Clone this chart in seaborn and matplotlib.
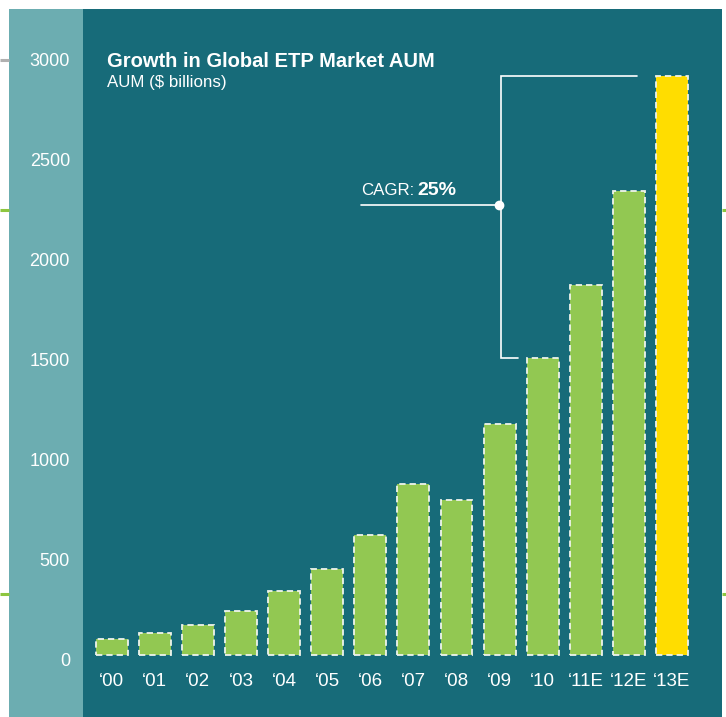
import matplotlib
matplotlib.use("Agg")
import matplotlib.pyplot as plt
from matplotlib.patches import Rectangle
from matplotlib.lines import Line2D
from matplotlib.transforms import ScaledTranslation
import seaborn as sns
import pandas as pd

# Global ETP assets under management, $ billions
years = ["\u201800", "\u201801", "\u201802", "\u201803", "\u201804", "\u201805", "\u201806",
         "\u201807", "\u201808", "\u201809", "\u201810", "\u201811E", "\u201812E", "\u201813E"]
aum = [80, 112, 150, 220, 320, 430, 600, 853, 775, 1157, 1485, 1850, 2320, 2897]
y_ticks = [0, 500, 1000, 1500, 2000, 2500, 3000]
cagr_label = "25%"

TEAL = "#176b79"
STRIP = "#6cadb1"
GREEN = "#92c852"
YELLOW = "#ffdd00"
EDGE = "#eef4ec"
MARK = "#8dc63f"

sns.set_theme(style="white")
plt.rcParams["font.family"] = ["Liberation Sans", "DejaVu Sans"]

W, H = 726, 717
fig = plt.figure(figsize=(W / 100, H / 100), dpi=100)
fig.patch.set_facecolor("white")

def fx(px):
    return px / W

def fy(py):
    return 1 - py / H

# light label strip on the left
fig.add_artist(Rectangle((fx(9), 0), fx(83) - fx(9), fy(9), transform=fig.transFigure,
                         facecolor=STRIP, edgecolor="none", zorder=0))
# small margin marks
for y0, c in [(60, "#b0b0b0"), (210, MARK), (594, MARK)]:
    fig.add_artist(Line2D([0, fx(9)], [fy(y0), fy(y0)], transform=fig.transFigure,
                          color=c, lw=2.2, solid_capstyle="butt"))
for y0 in (210, 594):
    fig.add_artist(Line2D([fx(722), 1], [fy(y0), fy(y0)], transform=fig.transFigure,
                          color=MARK, lw=2.2, solid_capstyle="butt"))

ax = fig.add_axes([fx(83), 0, fx(722) - fx(83), fy(9)])
ax.set_facecolor(TEAL)

df = pd.DataFrame({"year": years, "aum": aum})
palette = [GREEN] * (len(years) - 1) + [YELLOW]
sns.barplot(data=df, x="year", y="aum", hue="year", palette=palette, legend=False,
            width=0.74, saturation=1, ax=ax, zorder=2)
for p in ax.patches:
    p.set_edgecolor(EDGE)
    p.set_linewidth(1.3)
    p.set_linestyle((0, (3.5, 2.2)))

ax.set_xlim(-0.666, 14.16)
ax.set_ylim(-310, 3230)
for s in ax.spines.values():
    s.set_visible(False)
ax.set_xlabel("")
ax.set_ylabel("")

ax.set_yticks(y_ticks)
ax.set_yticklabels([str(v) for v in y_ticks])
ax.tick_params(axis="y", length=0, pad=9.4, labelsize=13, labelcolor="white")
ax.tick_params(axis="x", length=0, labelsize=13.5, labelcolor="white")
for lab in ax.get_yticklabels():
    lab.set_transform(lab.get_transform() + ScaledTranslation(0, -5 / 100, fig.dpi_scale_trans))
for lab in ax.get_xticklabels():
    lab.set_verticalalignment("baseline")
    lab.set_transform(lab.get_transform() + ScaledTranslation(0, 36 / 100, fig.dpi_scale_trans))

# titles
fig.text(fx(107), fy(66.7), "Growth in Global ETP Market AUM", color="white",
         fontsize=14.5, fontweight="bold", va="baseline", ha="left")
fig.text(fx(107), fy(86.7), "AUM ($ billions)", color="white",
         fontsize=12.2, va="baseline", ha="left")

# CAGR bracket spanning 2010 to 2013E
top, bottom = aum[-1], aum[10]
bx = 9.025
ax.plot([12.19, bx, bx, 9.43], [top, top, bottom, bottom], color="white", lw=1.2,
        solid_joinstyle="miter", zorder=3)
ax.plot([5.78, bx], [2250, 2250], color="white", lw=1.2, zorder=3)
ax.plot([bx - 0.04], [2250], "o", color="white", ms=6, zorder=4)
ax.text(5.78, 2300, "CAGR:", color="white", fontsize=12.2, va="baseline", ha="left")
ax.text(7.1, 2300, cagr_label, color="white", fontsize=14, fontweight="bold",
        va="baseline", ha="left")

fig.savefig("out.png", dpi=100, facecolor="white")
